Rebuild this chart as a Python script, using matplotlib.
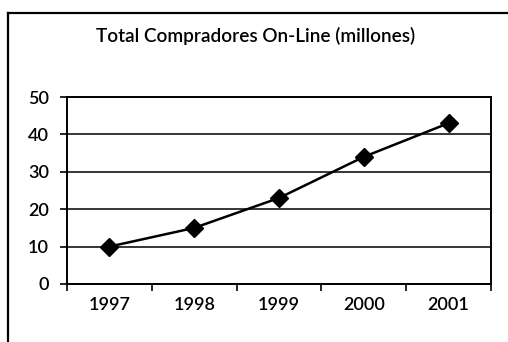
import matplotlib
matplotlib.use("Agg")
import matplotlib.pyplot as plt
from matplotlib.lines import Line2D

years = ["1997", "1998", "1999", "2000", "2001"]
buyers = [10, 15, 23, 34, 43]
y_ticks = [0, 10, 20, 30, 40, 50]

plt.rcParams["font.family"] = ["Lato", "DejaVu Sans"]

W, H = 508, 342
fig = plt.figure(figsize=(W / 100, H / 100), dpi=100)
fig.patch.set_facecolor("white")

# plot area in pixel coordinates
left, right, top, bottom = 67, 491, 97, 284
ax = fig.add_axes([left / W, 1 - bottom / H, (right - left) / W, (bottom - top) / H])

x = list(range(len(years)))
ax.plot(x, buyers, color="black", lw=1.8, marker="D", ms=9,
        markerfacecolor="black", markeredgecolor="black", zorder=3)

ax.set_xlim(-0.5, len(years) - 0.5)
ax.set_ylim(0, 50)
ax.set_yticks(y_ticks)
ax.set_yticklabels([str(v) for v in y_ticks], fontsize=13, fontweight="semibold")
ax.set_xticks(x)
ax.set_xticklabels(years, fontsize=13, fontweight="semibold")
ax.tick_params(axis="x", length=0, pad=9)
ax.set_xticks([i - 0.5 for i in range(len(years) + 1)], minor=True)
ax.tick_params(axis="x", which="minor", length=5, width=1.2, direction="out")
ax.tick_params(axis="y", length=5, width=1.2, direction="out", pad=8)

ax.grid(axis="y", color="black", lw=1.1)
ax.set_axisbelow(True)
for s in ax.spines.values():
    s.set_color("black")
    s.set_linewidth(1.4)

fig.text(256 / W, 1 - 36 / H, "Total Compradores On-Line (millones)",
         ha="center", va="center", fontsize=13.7, fontweight="semibold")

# outer chart frame: top and left edges
fig.add_artist(Line2D([8 / W, 1.0], [1 - 13 / H, 1 - 13 / H], color="black", lw=1.6,
                      transform=fig.transFigure))
fig.add_artist(Line2D([8 / W, 8 / W], [1 - 13 / H, 1 - 342 / H], color="black", lw=1.6,
                      transform=fig.transFigure))

fig.savefig("out.png", dpi=100, facecolor="white")
